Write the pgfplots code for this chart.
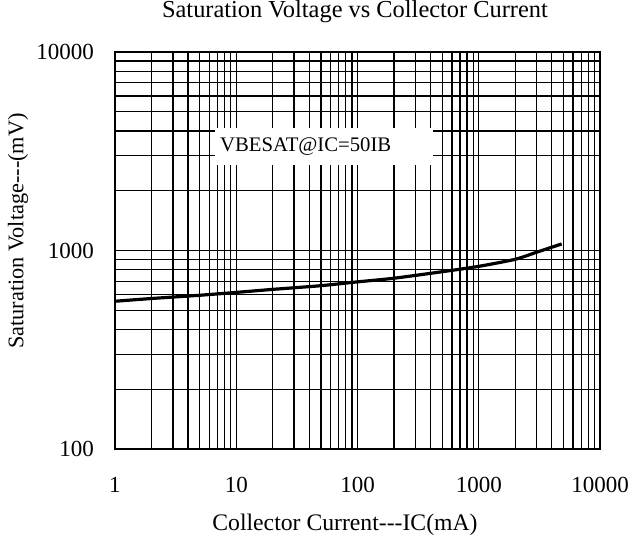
\documentclass[border=0pt]{standalone}
\usepackage{pgfplots}
\pgfplotsset{compat=1.18}
\usepackage{fontspec}
\setmainfont{Liberation Serif}
\begin{document}
\begin{tikzpicture}
\useasboundingbox (-115bp,-90bp) rectangle (515bp,449bp);
\begin{loglogaxis}[
  at={(0,0)}, anchor=south west,
  scale only axis, width=485bp, height=397bp,
  xmin=1, xmax=10000, ymin=100, ymax=10000,
  xtick={1,10,100,1000,10000}, xticklabels={1,10,100,1000,10000},
  ytick={100,1000,10000}, yticklabels={100,1000,10000},
  grid=both,
  major grid style={black, line width=1.3bp},
  minor grid style={black, line width=1.3bp},
  axis line style={line width=2bp},
  tick style={draw=none},
  xticklabel style={font=\fontsize{23bp}{25bp}\selectfont, anchor=center, yshift=-36bp},
  yticklabel style={font=\fontsize{23bp}{25bp}\selectfont, anchor=east, inner sep=0pt, xshift=-21bp},
  title={Saturation Voltage vs Collector Current},
  title style={font=\fontsize{24.4bp}{27bp}\selectfont, at={(axis description cs:0.4948,1.0856)}, anchor=center},
  xlabel={Collector Current-{}-{}-IC(mA)},
  ylabel={Saturation Voltage-{}-{}-(mV)},
  xlabel style={font=\fontsize{23.7bp}{26bp}\selectfont, at={(axis description cs:0.4742,-0.1914)}, anchor=center},
  ylabel style={font=\fontsize{22.3bp}{24bp}\selectfont, at={(axis description cs:-0.2,0.549)}, anchor=center},
]
\addplot[black, line width=3.2bp, smooth, tension=0.4] coordinates {
 (1,555) (2,573) (5,595) (10,615) (20,637) (50,665) (100,695) (200,725) (500,782) (1000,832) (2000,903) (3000,980) (4830,1079)
};
\node[anchor=west, fill=white, inner sep=0pt, minimum width=218bp, minimum height=37bp, align=left, text width=218bp, font=\fontsize{20.7bp}{22bp}\selectfont] at (axis cs:6.68,3341) {\hspace*{5bp}VBESAT@IC=50IB};
\end{loglogaxis}
\end{tikzpicture}
\end{document}
